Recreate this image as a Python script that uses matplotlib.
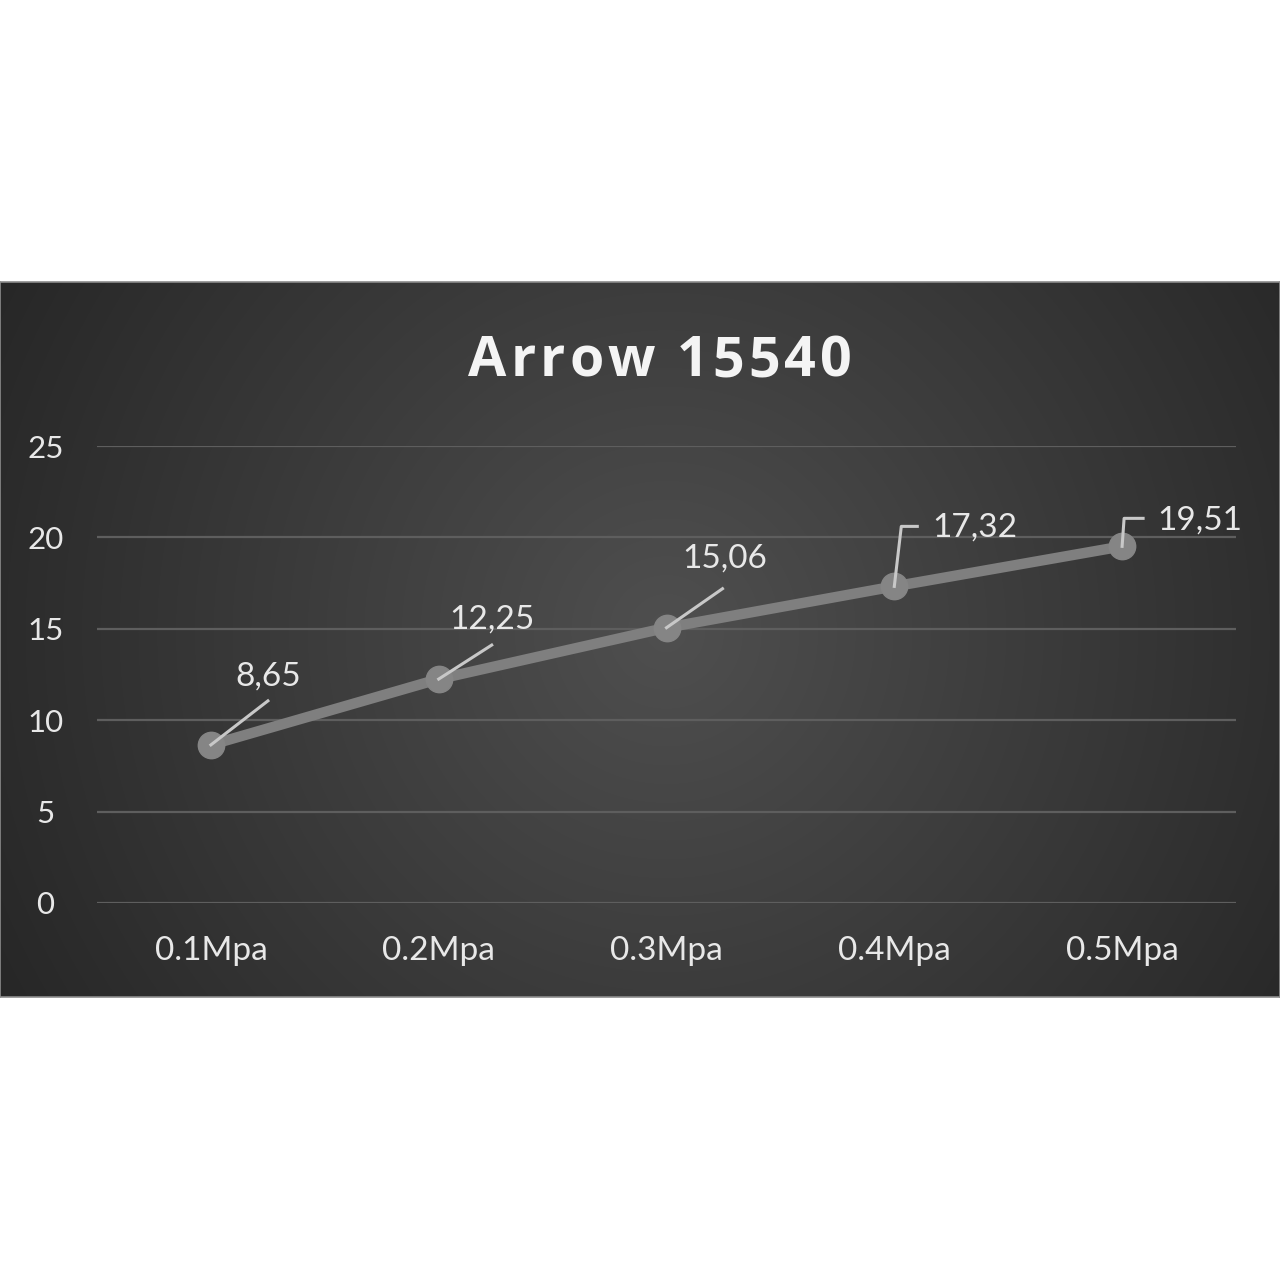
import matplotlib.pyplot as plt
import numpy as np

# data
categories = ['0.1Mpa', '0.2Mpa', '0.3Mpa', '0.4Mpa', '0.5Mpa']
values = [8.65, 12.25, 15.06, 17.32, 19.51]
value_labels = ['8,65', '12,25', '15,06', '17,32', '19,51']
y_ticks = [0, 5, 10, 15, 20, 25]
title = 'Arrow 15540'

# leader paths (offset pixels from the point) and label anchor offsets
leaders = [
    [(0, 0), (57, 44)],
    [(0, 0), (53, 34)],
    [(0, 0), (56, 39)],
    [(0, 0), (7, 60), (23, 60)],
    [(0, 0), (2, 28), (21, 28)],
]
label_offsets = [(57, 68, 'center'), (53, 60, 'center'), (58, 69, 'center'),
                 (38, 59, 'left'), (35, 26, 'left')]

font = 'Lato'
text_col = '#e8e8e8'

fig = plt.figure(figsize=(12.8, 12.8), dpi=100)
fig.patch.set_facecolor('white')

# dark panel with radial gradient
bg = fig.add_axes([0, 1 - 997 / 1280, 1, (997 - 282) / 1280])
W, H = 1280, 715
xx, yy = np.meshgrid(np.arange(W), np.arange(H))
r = np.sqrt((xx - 666) ** 2 + (yy - 350) ** 2) / 720
g = 0.31 - 0.15 * np.clip(r, 0, 1.2)
img = np.dstack([g, g, g])
bg.imshow(img, aspect='auto', extent=[0, 1, 0, 1], interpolation='bilinear')
bg.set_xlim(0, 1)
bg.set_ylim(0, 1)
bg.set_xticks([])
bg.set_yticks([])
for s in bg.spines.values():
    s.set_color('#8c8c8c')
    s.set_linewidth(1.2)

ax = fig.add_axes([97 / 1280, 1 - 903 / 1280, (1236 - 97) / 1280, (903 - 446) / 1280])
ax.set_facecolor('none')
x = np.arange(len(categories))
ax.set_xlim(-0.5, len(categories) - 0.5)
ax.set_ylim(0, 25)
ax.set_yticks(y_ticks)
ax.set_xticks(x)
ax.set_xticklabels(categories)
ax.tick_params(axis='both', length=0, labelcolor=text_col)
ax.tick_params(axis='y', pad=37, labelsize=22.5)
ax.tick_params(axis='x', pad=24, labelsize=24)
for lab in ax.get_yticklabels():
    lab.set_horizontalalignment('center')
    lab.set_family(font)
for lab in ax.get_xticklabels():
    lab.set_family(font)
ax.grid(axis='y', color='#5e5e5e', linewidth=1.6)
ax.set_axisbelow(True)
for s in ax.spines.values():
    s.set_visible(False)

ax.plot(x, values, color='#7f7f7f', linewidth=7.5, marker='o', markersize=19,
        markerfacecolor='#858585', markeredgecolor='#858585', zorder=3,
        solid_capstyle='round')

for i, v in enumerate(values):
    path = np.array(leaders[i])
    pts = ax.transData.transform([(x[i], v)])[0]
    dat = ax.transData.inverted().transform(path + pts)
    ax.plot(dat[:, 0], dat[:, 1], color='#c8c8c8', linewidth=2.2, zorder=4)
    dx, dy, ha = label_offsets[i]
    ax.annotate(value_labels[i], (x[i], v), xytext=(dx * 0.72, dy * 0.72),
                textcoords='offset points', ha=ha, va='center',
                color=text_col, fontsize=24, family=font, zorder=5)

# title with letter spacing, placed glyph by glyph
renderer = fig.canvas.get_renderer()
spacing = 4  # px
chars = []
for ch in title:
    t = fig.text(0, 1 - 362 / 1280, ch, ha='left', va='center', color='#f4f4f4',
                 fontsize=40, fontweight='bold', family='Open Sans')
    chars.append(t)
widths = []
for t, ch in zip(chars, title):
    if ch == ' ':
        widths.append(14)
    else:
        widths.append(t.get_window_extent(renderer).width)
total = sum(widths) + spacing * (len(title) - 1)
pos = 660 - total / 2
for t, w in zip(chars, widths):
    t.set_x(pos / 1280)
    pos += w + spacing

fig.savefig('out.png', dpi=100)
